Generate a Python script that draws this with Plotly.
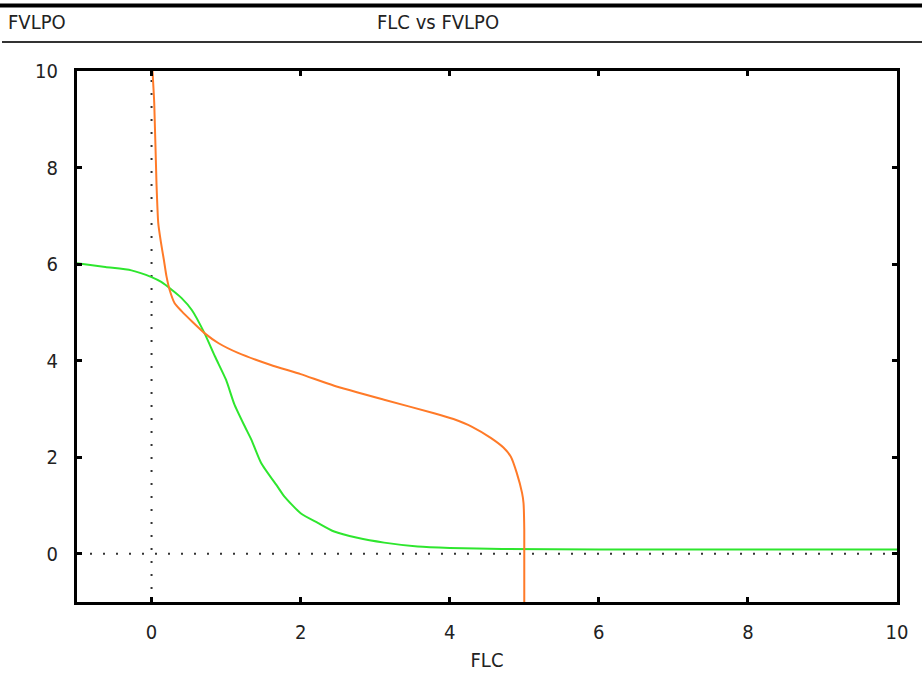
import plotly.graph_objects as go

# ---- data ----
orange_x = [0.013, 0.036, 0.067, 0.09, 0.125, 0.165, 0.20, 0.24, 0.31, 0.40, 0.55, 0.71, 0.9,
            1.16, 1.6, 2.0, 2.45, 3.12, 3.79, 4.05, 4.3, 4.55, 4.72, 4.82, 4.9, 4.97, 4.99, 5.0, 5.0]
orange_y = [10, 9.34, 7.64, 6.85, 6.46, 6.09, 5.75, 5.48, 5.19, 5.03, 4.8, 4.57, 4.36,
            4.16, 3.91, 3.72, 3.48, 3.19, 2.91, 2.79, 2.63, 2.40, 2.2, 2.01, 1.67, 1.26, 1.05, 0.5, -1]

green_x = [-1, -0.62, -0.27, 0, 0.13, 0.27, 0.40, 0.54, 0.71, 0.85, 1.0, 1.11, 1.25, 1.34,
           1.47, 1.69, 1.78, 2.0, 2.23, 2.45, 2.76, 3.12, 3.57, 4.0, 4.7, 6, 8, 10]
green_y = [6.02, 5.94, 5.87, 5.73, 5.63, 5.47, 5.3, 5.05, 4.57, 4.09, 3.6, 3.1, 2.64, 2.36,
           1.88, 1.39, 1.19, 0.84, 0.64, 0.46, 0.33, 0.23, 0.15, 0.12, 0.1, 0.09, 0.09, 0.09]

x_ticks = [0, 2, 4, 6, 8, 10]
y_ticks = [0, 2, 4, 6, 8, 10]
x_range = [-1, 10]
y_range = [-1, 10]
header_left = "FVLPO"
header_title = "FLC vs FVLPO"
x_title = "FLC"

FONT = "DejaVu Sans Condensed, Liberation Sans, sans-serif"

W, H = 922, 674
ML, MR, MT, MB = 77, 25, 71, 72
PW, PH = W - ML - MR, H - MT - MB


def px_x(p):
    return (p - ML) / PW


def px_y(p):
    return (H - MB - p) / PH


fig = go.Figure()

# zero lines (dotted)
fig.add_trace(go.Scatter(x=[x_range[0], x_range[1]], y=[0, 0], mode="lines",
                         line=dict(color="#333333", width=2, dash="2px,11px"),
                         hoverinfo="skip", showlegend=False))
fig.add_trace(go.Scatter(x=[0, 0], y=[y_range[0], y_range[1]], mode="lines",
                         line=dict(color="#333333", width=2, dash="2px,11px"),
                         hoverinfo="skip", showlegend=False))

fig.add_trace(go.Scatter(x=green_x, y=green_y, mode="lines",
                         line=dict(color="#2ee62e", width=2, shape="spline", smoothing=0.6),
                         showlegend=False))
fig.add_trace(go.Scatter(x=orange_x, y=orange_y, mode="lines",
                         line=dict(color="#ff7a28", width=2, shape="spline", smoothing=0.5),
                         showlegend=False))

axis_common = dict(showline=True, linecolor="black", linewidth=3, mirror="ticks",
                   ticks="inside", ticklen=5, tickwidth=3, tickcolor="black",
                   showgrid=False, zeroline=False, automargin=False,
                   tickfont=dict(family=FONT, size=20, color="#222222"))

fig.update_xaxes(range=x_range, tickvals=x_ticks, ticklabelstandoff=10,
                 title=dict(text=x_title, font=dict(family=FONT, size=20, color="#222222"), standoff=10),
                 **axis_common)
fig.update_yaxes(range=y_range, tickvals=y_ticks, ticklabelstandoff=12, **axis_common)

# header lines
fig.add_shape(type="line", xref="paper", yref="paper", x0=px_x(0), x1=px_x(W),
              y0=px_y(5.5), y1=px_y(5.5), line=dict(color="black", width=4))
fig.add_shape(type="line", xref="paper", yref="paper", x0=px_x(2), x1=px_x(W),
              y0=px_y(42), y1=px_y(42), line=dict(color="#333333", width=2))

fig.add_annotation(text=header_left, xref="paper", yref="paper", x=px_x(6), y=px_y(22),
                   xanchor="left", yanchor="middle", showarrow=False,
                   font=dict(family=FONT, size=20, color="#222222"))
fig.add_annotation(text=header_title, xref="paper", yref="paper", x=px_x(438), y=px_y(22),
                   xanchor="center", yanchor="middle", showarrow=False,
                   font=dict(family=FONT, size=20, color="#222222"))

fig.update_layout(width=W, height=H, margin=dict(l=ML, r=MR, t=MT, b=MB, autoexpand=False),
                  paper_bgcolor="white", plot_bgcolor="white", showlegend=False)

fig.write_html("out.html")
